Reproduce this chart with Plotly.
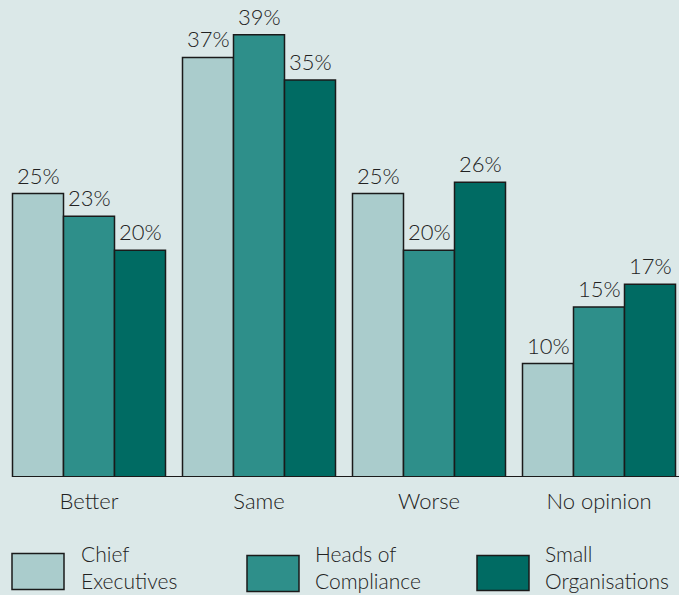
import plotly.graph_objects as go

categories = ["Better", "Same", "Worse", "No opinion"]
series_names = ["Chief<br>Executives", "Heads of<br>Compliance", "Small<br>Organisations"]
chief_exec = [25, 37, 25, 10]
heads_compliance = [23, 39, 20, 15]
small_orgs = [20, 35, 26, 17]
series_values = [chief_exec, heads_compliance, small_orgs]
colors = ["#aacccc", "#2e8f8a", "#006b63"]

W, H = 679, 595
ML, MR, MT = 4, 0, 0
BASE_PX = 476.6
PX_PER_PCT = 11.33
MB = H - BASE_PX
FONT = "Lato"
WEIGHT = 300
TXT = "#222222"
BG = "#dbe8e8"

x_idx = list(range(len(categories)))
bar_w = 0.3

fig = go.Figure()
for j, (name, vals, col) in enumerate(zip(series_names, series_values, colors)):
    fig.add_trace(go.Bar(
        x=x_idx, y=vals, name=name,
        marker=dict(color=col, line=dict(color="#1a1a1a", width=1.5)),
        showlegend=False,
    ))
    for i, v in enumerate(vals):
        fig.add_annotation(
            x=i + (j - 1) * bar_w, y=v, xref="x", yref="y",
            text=f"{v}%", showarrow=False, yanchor="bottom", yshift=3,
            font=dict(family=FONT, size=22, color=TXT, weight=WEIGHT),
        )

x_max = -0.5 + (W - ML - MR) / 170.0
y_max = BASE_PX / PX_PER_PCT

# baseline
fig.add_shape(type="line", xref="x", yref="y", x0=-0.45, x1=x_max, y0=0, y1=0,
              line=dict(color="#1a1a1a", width=2))

plot_w = W - ML - MR
plot_h = BASE_PX - MT

def px_x(px):
    return (px - ML) / plot_w

def px_y(py):
    return (BASE_PX - py) / plot_h

legend_boxes = [(12, 64, 553, 589), (247, 299, 555, 591), (477, 529, 555, 590)]
legend_text_x = [79, 313, 543]
for (x0, x1, y0, y1), tx, name, col in zip(legend_boxes, legend_text_x, series_names, colors):
    fig.add_shape(type="rect", xref="paper", yref="paper",
                  x0=px_x(x0), x1=px_x(x1), y0=px_y(y1), y1=px_y(y0),
                  fillcolor=col, line=dict(color="#1a1a1a", width=1.5))
    fig.add_annotation(xref="paper", yref="paper", x=px_x(tx), y=px_y(566.5),
                       xanchor="left", yanchor="middle", align="left",
                       text=name, showarrow=False,
                       font=dict(family=FONT, size=21, color=TXT, weight=WEIGHT))

fig.update_layout(
    width=W, height=H,
    margin=dict(l=ML, r=MR, t=MT, b=MB, pad=0),
    paper_bgcolor=BG, plot_bgcolor=BG,
    barmode="group", bargap=0.1, bargroupgap=0,
    xaxis=dict(range=[-0.5, x_max], tickmode="array", tickvals=x_idx, ticktext=categories,
               showgrid=False, zeroline=False, showline=False, ticks="",
               ticklabelstandoff=9,
               tickfont=dict(family=FONT, size=22, color=TXT, weight=WEIGHT), fixedrange=True),
    yaxis=dict(range=[0, y_max], showgrid=False, zeroline=False, showline=False,
               showticklabels=False, fixedrange=True),
)

fig.write_html("out.html")
